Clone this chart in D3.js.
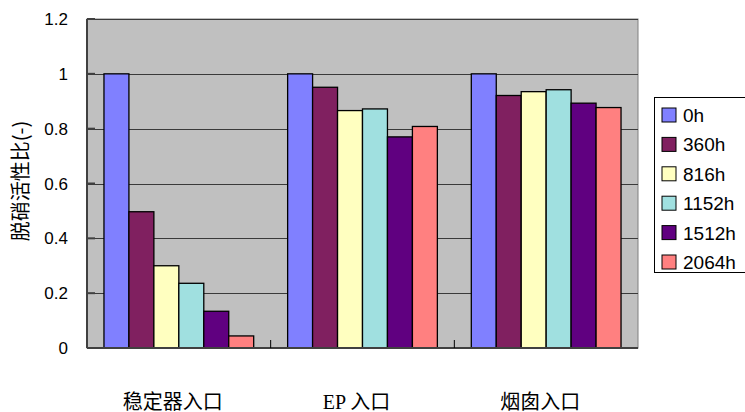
<!DOCTYPE html>
<html lang="zh">
<head>
<meta charset="UTF-8">
<title>脱硝活性比</title>
<script src="https://d3js.org/d3.v7.min.js"></script>
<style>
    body { margin: 0; background: #fff; }
    svg { display: block; }
    .tick-label { font-family: "Liberation Sans", Arial, sans-serif; font-size: 17px; fill: #000; }
    .legend-label { font-family: "Liberation Sans", Arial, sans-serif; font-size: 19px; fill: #000; }
    .cat-label { font-family: "Liberation Serif", "Noto Sans CJK SC", serif; font-size: 20px; fill: #000; }
    .y-title { font-family: "Noto Sans CJK SC", sans-serif; font-size: 20px; fill: #000; }
</style>
</head>
<body>
<svg id="chart" width="745" height="412"></svg>
<script>
    // data
    const categories = ["稳定器入口", "EP 入口", "烟囱入口"];
    const seriesNames = ["0h", "360h", "816h", "1152h", "1512h", "2064h"];
    const seriesColors = ["#8080ff", "#802060", "#ffffc0", "#a0e0e0", "#600080", "#ff8080"];
    const values = [
        [1.0, 0.497, 0.30, 0.236, 0.134, 0.044],   // 稳定器入口
        [1.0, 0.951, 0.866, 0.872, 0.770, 0.808],  // EP 入口
        [1.0, 0.921, 0.935, 0.942, 0.893, 0.877]   // 烟囱入口
    ];
    const yTicks = [0, 0.2, 0.4, 0.6, 0.8, 1, 1.2];

    const svg = d3.select("#chart");
    const plot = { left: 87, right: 638, top: 19, bottom: 348 };

    const x0 = d3.scaleBand().domain(categories).range([plot.left, plot.right]).paddingInner(0).paddingOuter(0);
    const x1 = d3.scaleBand().domain(seriesNames).range([0, x0.bandwidth()]).paddingOuter(0.68).paddingInner(0);
    const y = d3.scaleLinear().domain([0, 1.2]).range([plot.bottom, plot.top]);

    // plot background
    svg.append("rect")
        .attr("x", plot.left).attr("y", plot.top)
        .attr("width", plot.right - plot.left).attr("height", plot.bottom - plot.top)
        .attr("fill", "#c0c0c0")
        .attr("stroke", "#808080").attr("stroke-width", 1);

    // gridlines
    svg.append("g").selectAll("line")
        .data(yTicks.filter(d => d > 0))
        .enter().append("line")
        .attr("x1", plot.left).attr("x2", plot.right)
        .attr("y1", d => Math.round(y(d)) + 0.5).attr("y2", d => Math.round(y(d)) + 0.5)
        .attr("stroke", "#3a3a3a").attr("stroke-width", 1.2);

    // bars
    const groups = svg.append("g").selectAll("g")
        .data(values)
        .enter().append("g")
        .attr("transform", (d, i) => `translate(${x0(categories[i])},0)`);

    groups.selectAll("rect")
        .data(d => d.map((v, j) => ({ v, j })))
        .enter().append("rect")
        .attr("x", d => x1(seriesNames[d.j]))
        .attr("y", d => y(d.v))
        .attr("width", x1.bandwidth())
        .attr("height", d => y(0) - y(d.v))
        .attr("fill", d => seriesColors[d.j])
        .attr("stroke", "#000").attr("stroke-width", 1.3);

    // y axis line and inward ticks
    svg.append("line")
        .attr("x1", plot.left).attr("x2", plot.left)
        .attr("y1", plot.top).attr("y2", plot.bottom)
        .attr("stroke", "#404040").attr("stroke-width", 2);
    svg.append("g").selectAll("line")
        .data(yTicks)
        .enter().append("line")
        .attr("x1", plot.left).attr("x2", plot.left + 8)
        .attr("y1", d => y(d)).attr("y2", d => y(d))
        .attr("stroke", "#404040").attr("stroke-width", 2);

    // x axis line and category ticks
    svg.append("line")
        .attr("x1", plot.left).attr("x2", plot.right)
        .attr("y1", plot.bottom).attr("y2", plot.bottom)
        .attr("stroke", "#404040").attr("stroke-width", 2);
    svg.append("g").selectAll("line")
        .data(categories.slice(1))
        .enter().append("line")
        .attr("x1", d => x0(d)).attr("x2", d => x0(d))
        .attr("y1", plot.bottom).attr("y2", plot.bottom - 8)
        .attr("stroke", "#000").attr("stroke-width", 1);

    // y tick labels
    svg.append("g").selectAll("text")
        .data(yTicks)
        .enter().append("text")
        .attr("class", "tick-label")
        .attr("x", 68)
        .attr("y", d => y(d) + 6)
        .attr("text-anchor", "end")
        .text(d => d3.format("~g")(d));

    // y axis title
    svg.append("text")
        .attr("class", "y-title")
        .attr("transform", "translate(28,181) rotate(-90)")
        .attr("text-anchor", "middle")
        .text("脱硝活性比(-)");

    // category labels
    svg.append("g").selectAll("text")
        .data(categories)
        .enter().append("text")
        .attr("class", "cat-label")
        .attr("x", d => x0(d) + x0.bandwidth() / 2 - 6)
        .attr("y", 409)
        .attr("text-anchor", "middle")
        .text(d => d);

    // legend
    const legend = svg.append("g");
    legend.append("rect")
        .attr("x", 654.5).attr("y", 97.5)
        .attr("width", 110).attr("height", 175)
        .attr("fill", "#fff").attr("stroke", "#000").attr("stroke-width", 1);
    const items = legend.selectAll("g")
        .data(seriesNames)
        .enter().append("g")
        .attr("transform", (d, i) => `translate(0,${115 + i * 29.4})`);
    items.append("rect")
        .attr("x", 662).attr("y", -7)
        .attr("width", 14).attr("height", 14)
        .attr("fill", (d, i) => seriesColors[i])
        .attr("stroke", "#000").attr("stroke-width", 1);
    items.append("text")
        .attr("class", "legend-label")
        .attr("x", 683).attr("y", 7)
        .text(d => d);
</script>
</body>
</html>
